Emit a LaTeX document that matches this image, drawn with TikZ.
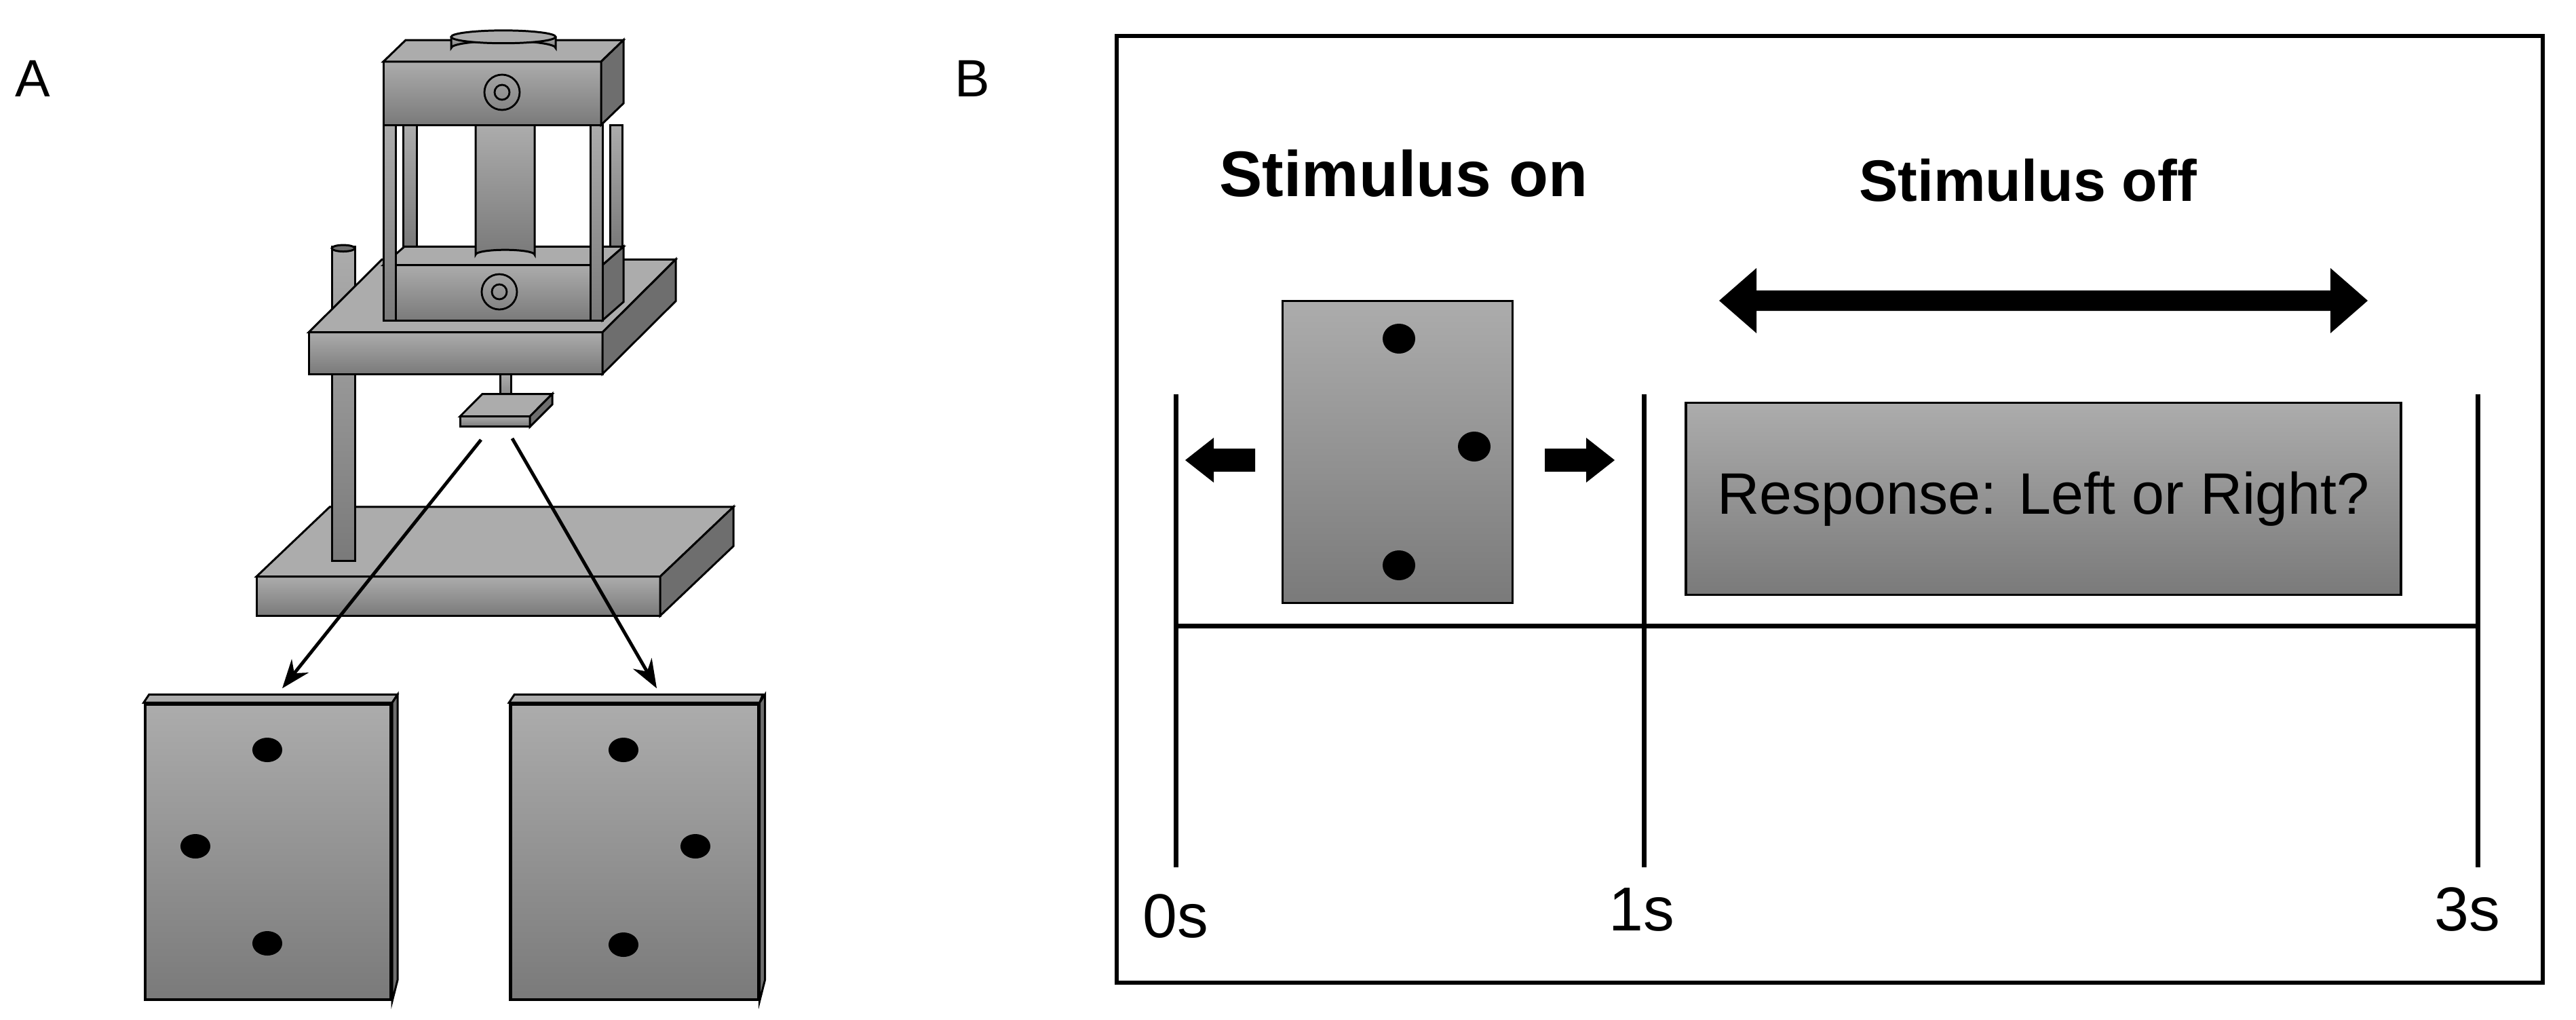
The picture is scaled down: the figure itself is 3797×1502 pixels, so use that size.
\documentclass[tikz,border=0pt]{standalone}
\usepackage{fontspec}
\setmainfont{Liberation Sans}
\usepackage{tikz}
\usetikzlibrary{shapes,arrows.meta,positioning,calc}

\definecolor{metaltop}{RGB}{172,172,172}
\definecolor{metalbot}{RGB}{122,122,122}
\definecolor{metalside}{RGB}{110,110,110}

% front face, top face and right face of a block
\newcommand{\slab}[6]{%
  \draw[metal] (#1,#2) rectangle ++(#3,#4);
  \draw[fill=metaltop] (#1,#2) -- ++(#5,-#6) -- ++(#3,0) -- ++(-#5,#6) -- cycle;
  \draw[fill=metalside] (#1,#2) ++(#3,0) -- ++(#5,-#6) -- ++(0,#4) -- ++(-#5,#6) -- cycle;}
\newcommand{\emblem}[2]{%
  \draw[thick] (#1,#2) circle (26);
  \draw[thick] (#1,#2) circle (11);}

\tikzset{
  metal/.style={draw=black, top color=metaltop, bottom color=metalbot},
  card/.style={metal, line width=1.2pt, inner sep=0pt},
  dot/.style={ellipse, fill=black, minimum width=0.44cm, minimum height=0.36cm, inner sep=0pt},
  tick/.style={line width=2pt},
  lbl/.style={font=\fontsize{26}{30}\selectfont},
  fat/.style={fill=black}
}

\begin{document}
\begin{tikzpicture}[x=0.01cm, y=-0.01cm, line width=0.85pt]
\useasboundingbox (0,0) rectangle (3797,1502);

% Panel labels
\node[font=\fontsize{22}{26}\selectfont] (labA) at (48,116) {A};
\node[font=\fontsize{22}{26}\selectfont] (labB) at (1433,116) {B};

% Apparatus
\begin{scope}[yscale=1.18]
\slab{378}{720}{595}{49}{108}{87}
\draw[metal] (489,308) rectangle (523,700);
\draw[fill=metalside] (506,310) ellipse (17 and 4);
\slab{455}{415}{433}{52}{108}{91}
\draw[metal] (594,156) rectangle (614,308);
\draw[metal] (899,156) rectangle (917,308);
\slab{565}{331}{323}{69}{31}{23}
\draw[metal] (701,156) -- (701,318) arc[start angle=180, end angle=360, x radius=43.5, y radius=6] -- (788,156);
\draw[metal] (565,156) rectangle (583,400);
\draw[metal] (870,156) rectangle (888,400);
\slab{565}{77}{321}{79}{33}{27}
\draw[metal] (665,46) -- (665,60) arc[start angle=180, end angle=360, x radius=77, y radius=9] -- (819,46);
\draw[fill=metaltop] (742,46) ellipse (77 and 8);
\draw[metal] (737,467) rectangle (753,508);
\slab{678}{520}{103}{13}{33}{28}
\end{scope}
\emblem{740}{136}
\emblem{736}{430}

% Stimulus cards
\node[card, minimum width=3.62cm, minimum height=4.35cm] (cardL) at (395,1255) {};
\node[card, minimum width=3.65cm, minimum height=4.35cm] (cardR) at (935,1255) {};
\foreach \c in {cardL,cardR} {
  \draw[fill=metaltop] (\c.north west) -- ++(8,-12) -- ++(366,0) -- (\c.north east) -- cycle;
  \draw[fill=metalside] (\c.north east) -- ++(8,-12) -- ++(0,420) -- (\c.south east) -- cycle;
}
\node[dot] (l1) at (394,1105) {};
\node[dot] (l2) at (288,1247) {};
\node[dot] (l3) at (394,1390) {};
\node[dot] (r1) at (919,1105) {};
\node[dot] (r2) at (1025,1247) {};
\node[dot] (r3) at (919,1392) {};

\coordinate (beamL) at (709,648);
\coordinate (beamR) at (755,646);
\draw[line width=1.4pt, -{Stealth[length=12pt, width=9pt]}] (beamL) -- ([xshift=0.21cm, yshift=0.21cm]cardL.north);
\draw[line width=1.4pt, -{Stealth[length=12pt, width=9pt]}] (beamR) -- ([xshift=0.33cm, yshift=0.21cm]cardR.north);

% Panel B
\draw[line width=1.7pt] (1646,53) rectangle (3748,1448);
\node[font=\bfseries\fontsize{27}{31}\selectfont] (onLbl) at (2069,256) {Stimulus on};
\node[font=\bfseries\fontsize{24.5}{28}\selectfont] (offLbl) at (2989,266) {Stimulus off};

\coordinate (t0top) at (1733,581);
\coordinate (t1top) at (2423,581);
\coordinate (t3top) at (3652,581);
\coordinate (t0bot) at (1733,1278);
\coordinate (t1bot) at (2423,1278);
\coordinate (t3bot) at (3652,1278);
\coordinate (t0mid) at (1733,922);
\coordinate (t3mid) at (3652,922);
\draw[tick] (t0top) -- (t0bot);
\draw[tick] (t1top) -- (t1bot);
\draw[tick] (t3top) -- (t3bot);
\draw[tick] (t0mid) -- (t3mid);
\node[lbl] (s0) at (1733,1350) {0s};
\node[lbl] (s1) at (2420,1340) {1s};
\node[lbl] (s3) at (3637,1340) {3s};

\node[card, line width=1pt, minimum width=3.39cm, minimum height=4.45cm] (stim) at (2060,666) {};
\node[dot, minimum width=0.48cm, minimum height=0.44cm] (d1) at (2062,499) {};
\node[dot, minimum width=0.48cm, minimum height=0.44cm] (d2) at (2173,658) {};
\node[dot, minimum width=0.48cm, minimum height=0.44cm] (d3) at (2062,833) {};

\node[card, line width=1pt, minimum width=10.53cm, minimum height=2.83cm,
      font=\fontsize{24.5}{29}\selectfont] (resp) at (3012,735) {Response: Left or Right?};

% arrows
\fill[fat] (1747,678) -- ++(42,-33) -- ++(0,16) -- ++(61,0) -- ++(0,34) -- ++(-61,0) -- ++(0,16) -- cycle;
\fill[fat] (2380,678) -- ++(-42,-33) -- ++(0,16) -- ++(-61,0) -- ++(0,34) -- ++(61,0) -- ++(0,16) -- cycle;
\fill[fat] (2534,443) -- ++(55,-48) -- ++(0,33) -- ++(846,0) -- ++(0,-33) -- ++(55,48)
  -- ++(-55,48) -- ++(0,-33) -- ++(-846,0) -- ++(0,33) -- cycle;
\end{tikzpicture}
\end{document}
